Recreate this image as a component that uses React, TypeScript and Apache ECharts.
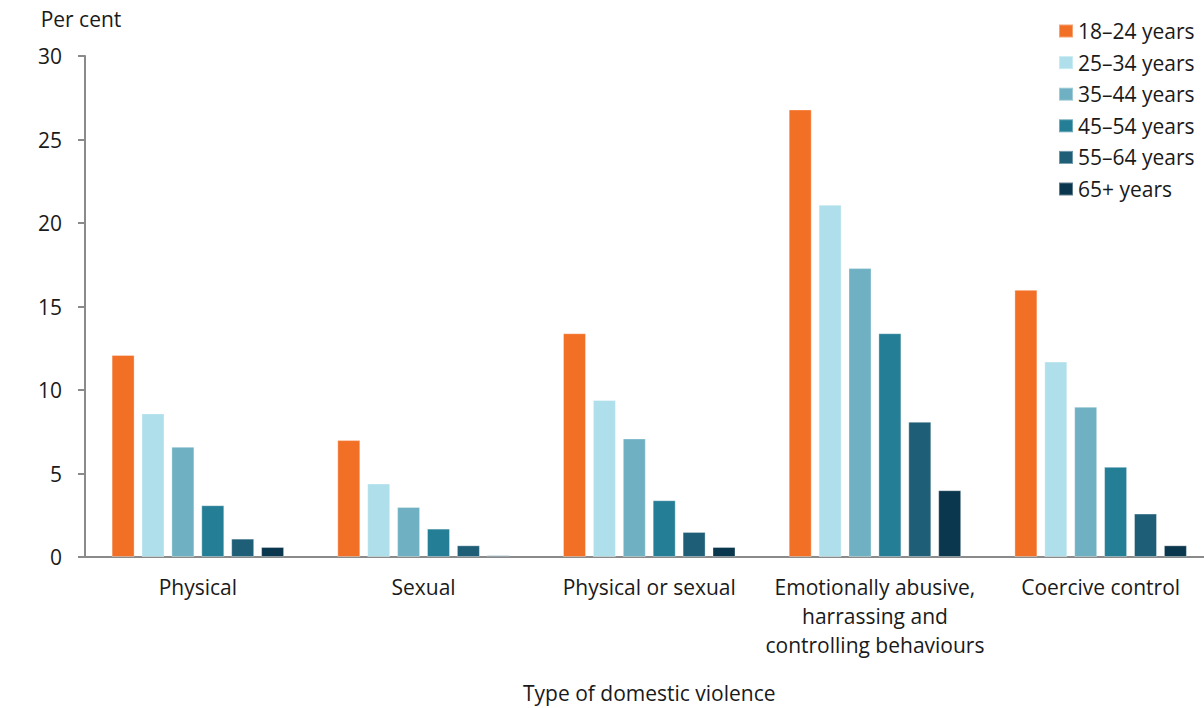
import React, { useEffect, useRef } from "react";
import * as echarts from "echarts";

const categories = [
  "Physical",
  "Sexual",
  "Physical or sexual",
  "Emotionally abusive,\nharrassing and\ncontrolling behaviours",
  "Coercive control",
];
const seriesNames = ["18–24 years", "25–34 years", "35–44 years", "45–54 years", "55–64 years", "65+ years"];
const age18_24 = [12.1, 7.0, 13.4, 26.8, 16.0];
const age25_34 = [8.6, 4.4, 9.4, 21.1, 11.7];
const age35_44 = [6.6, 3.0, 7.1, 17.3, 9.0];
const age45_54 = [3.1, 1.7, 3.4, 13.4, 5.4];
const age55_64 = [1.1, 0.7, 1.5, 8.1, 2.6];
const age65plus = [0.6, 0.1, 0.6, 4.0, 0.7];
const colors = ["#F26F26", "#AEDFEA", "#6FB1C2", "#247E96", "#1F5E77", "#0B374E"];

const FONT = "'Open Sans', 'Noto Sans', sans-serif";
const FS = 21;

export default function App() {
  const ref = useRef<HTMLDivElement>(null);
  useEffect(() => {
    if (!ref.current) return;
    const chart = echarts.init(ref.current, undefined, { renderer: "svg" });
    const data = [age18_24, age25_34, age35_44, age45_54, age55_64, age65plus];
    chart.setOption({
      animation: false,
      textStyle: { fontFamily: FONT, color: "#1a1a1a" },
      legend: {
        orient: "vertical",
        left: 1058,
        top: 20,
        padding: 0,
        itemWidth: 14,
        itemHeight: 13,
        itemGap: 9.6,
        icon: "rect",
        textStyle: { fontFamily: FONT, fontSize: FS, color: "#1a1a1a", lineHeight: 22 },
        data: seriesNames,
      },
      grid: {
        left: 85,
        top: 56,
        width: 1128.5,
        height: 501,
        containLabel: false,
        outerBoundsMode: "none",
      },
      xAxis: {
        type: "category",
        data: categories,
        name: "Type of domestic violence",
        nameLocation: "middle",
        nameGap: 125.5,
        nameTextStyle: { fontFamily: FONT, fontSize: FS, color: "#1a1a1a" },
        axisLine: { lineStyle: { color: "#8a8a8a", width: 2 } },
        axisTick: { show: false },
        axisLabel: {
          fontFamily: FONT,
          fontSize: FS,
          color: "#1a1a1a",
          lineHeight: 29,
          margin: 15,
          interval: 0,
        },
      },
      yAxis: {
        type: "value",
        min: 0,
        max: 30,
        interval: 5,
        name: "Per cent",
        nameLocation: "end",
        nameGap: 26.5,
        nameTextStyle: {
          fontFamily: FONT,
          fontSize: FS,
          color: "#1a1a1a",
          align: "center",
          padding: [0, 8, 0, 0],
        },
        axisLine: { show: true, lineStyle: { color: "#8a8a8a", width: 2 } },
        axisTick: { show: true, length: 7, lineStyle: { color: "#8a8a8a", width: 2 } },
        splitLine: { show: false },
        axisLabel: { fontFamily: FONT, fontSize: FS, color: "#1a1a1a", margin: 23 },
      },
      series: seriesNames.map((name, i) => ({
        name,
        type: "bar",
        data: data[i],
        barWidth: 23,
        barGap: "30%",
        itemStyle: { color: colors[i], borderColor: "rgba(255,255,255,0.35)", borderWidth: 1 },
      })),
    });
    return () => chart.dispose();
  }, []);
  return (
    <div
      ref={ref}
      style={{ position: "fixed", left: 0, top: 0, width: 1204, height: 708, background: "#fff" }}
    />
  );
}
